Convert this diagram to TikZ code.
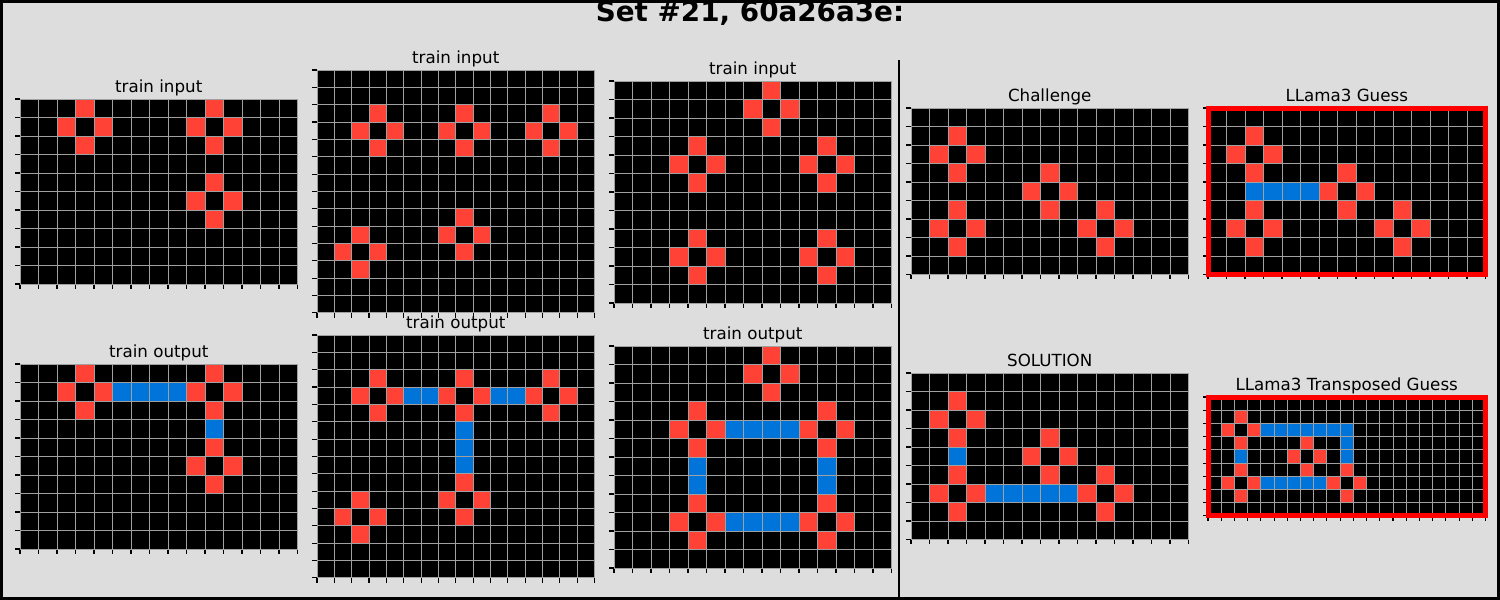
\documentclass[tikz,border=0pt]{standalone}
\usepackage{fontspec}
\setmainfont{DejaVu Sans}
\usetikzlibrary{positioning}
\definecolor{arcRed}{RGB}{255,65,54}
\definecolor{arcBlue}{RGB}{0,116,217}
\definecolor{arcGrey}{RGB}{160,160,160}
\definecolor{figBg}{RGB}{221,221,221}

\tikzset{
  gridline/.style={draw=arcGrey, line width=1pt},
  axtick/.style={draw=black, line width=1.1pt},
  panel/.style={font=\fontsize{16.7}{20}\selectfont, anchor=base, inner sep=0pt},
  guessframe/.style={draw=red, line width=5pt},
}

% #1,#2 top left corner, #3 cols, #4 rows, #5 cell size, #6 red cells, #7 blue cells
\newcommand{\arcgrid}[7]{%
  \begin{scope}[shift={(#1,#2)}, x=#5pt, y=-#5pt]
    \fill[black] (0,0) rectangle (#3,#4);
    \foreach \c/\r in {#6} {\fill[arcRed] (\c,\r) rectangle ++(1,1);}
    \foreach \c/\r in {#7} {\fill[arcBlue] (\c,\r) rectangle ++(1,1);}
    \foreach \i in {0,...,#3} {
      \draw[gridline] (\i,0) -- (\i,#4);
      \draw[axtick] (\i,#4) -- ++(0pt,-4.9pt);}
    \foreach \j in {0,...,#4} {
      \draw[gridline] (0,\j) -- (#3,\j);
      \draw[axtick] (0,\j) -- ++(-4.9pt,0pt);}
  \end{scope}}

\begin{document}
\begin{tikzpicture}[x=1pt, y=-1pt]
  \useasboundingbox (0,0) rectangle (1500,600);
  \fill[figBg] (0,0) rectangle (1500,600);

  \node[font=\bfseries\fontsize{27.8}{33}\selectfont, anchor=base, inner sep=0pt] (title) at (750,21) {Set \#21, 60a26a3e:};

  % first pair
  \node[panel] (in1) at (158.75,92.5) {train input};
  \arcgrid{20}{99}{15}{10}{18.5}{3/0,10/0,2/1,4/1,9/1,11/1,3/2,10/2,10/4,9/5,11/5,10/6}{}
  \node[panel] (out1) at (158.75,357.5) {train output};
  \arcgrid{20}{364}{15}{10}{18.5}{3/0,10/0,2/1,4/1,9/1,11/1,3/2,10/2,10/4,9/5,11/5,10/6}{5/1,6/1,7/1,8/1,10/3}

  % second pair
  \node[panel] (in2) at (455.75,63.5) {train input};
  \arcgrid{317}{70}{16}{14}{17.344}{3/2,8/2,13/2,2/3,4/3,7/3,9/3,12/3,14/3,3/4,8/4,13/4,8/8,2/9,7/9,9/9,1/10,3/10,8/10,2/11}{}
  \node[panel] (out2) at (455.75,328.5) {train output};
  \arcgrid{317}{335}{16}{14}{17.344}{3/2,8/2,13/2,2/3,4/3,7/3,9/3,12/3,14/3,3/4,8/4,13/4,8/8,2/9,7/9,9/9,1/10,3/10,8/10,2/11}{5/3,6/3,10/3,11/3,8/5,8/6,8/7}

  % third pair
  \node[panel] (in3) at (752.75,74.5) {train input};
  \arcgrid{614}{81}{15}{12}{18.5}{8/0,7/1,9/1,8/2,4/3,11/3,3/4,5/4,10/4,12/4,4/5,11/5,4/8,11/8,3/9,5/9,10/9,12/9,4/10,11/10}{}
  \node[panel] (out3) at (752.75,339.5) {train output};
  \arcgrid{614}{346}{15}{12}{18.5}{8/0,7/1,9/1,8/2,4/3,11/3,3/4,5/4,10/4,12/4,4/5,11/5,4/8,11/8,3/9,5/9,10/9,12/9,4/10,11/10}{6/4,7/4,8/4,9/4,4/6,4/7,11/6,11/7,6/9,7/9,8/9,9/9}

  \draw[line width=2pt] (899,60) -- (899,600);

  % test side
  \node[panel] (chal) at (1049.75,101.5) {Challenge};
  \arcgrid{911}{108}{15}{9}{18.5}{2/1,1/2,3/2,2/3,7/3,6/4,8/4,2/5,7/5,10/5,1/6,3/6,9/6,11/6,2/7,10/7}{}
  \node[panel] (guess) at (1346.75,101.5) {LLama3 Guess};
  \arcgrid{1208}{108}{15}{9}{18.5}{2/1,1/2,3/2,2/3,7/3,6/4,8/4,2/5,7/5,10/5,1/6,3/6,9/6,11/6,2/7,10/7}{2/4,3/4,4/4,5/4}
  \draw[guessframe] (1208,108) rectangle (1485.5,274.5);
  \node[panel] (sol) at (1049.75,366.5) {SOLUTION};
  \arcgrid{911}{373}{15}{9}{18.5}{2/1,1/2,3/2,2/3,7/3,6/4,8/4,2/5,7/5,10/5,1/6,3/6,9/6,11/6,2/7,10/7}{2/4,4/6,5/6,6/6,7/6,8/6}
  \node[panel] (tguess) at (1346.75,390.5) {LLama3 Transposed Guess};
  \arcgrid{1208}{397}{21}{9}{13.214}{2/1,1/2,3/2,2/3,7/3,6/4,8/4,2/5,7/5,10/5,1/6,3/6,9/6,11/6,2/7,10/7}{4/2,5/2,6/2,7/2,8/2,9/2,10/2,10/3,2/4,10/4,4/6,5/6,6/6,7/6,8/6}
  \draw[guessframe] (1208,397) rectangle (1485.5,515.9);

  \draw[line width=3pt] (1.5,1.5) rectangle (1498.5,598.5);
\end{tikzpicture}
\end{document}
